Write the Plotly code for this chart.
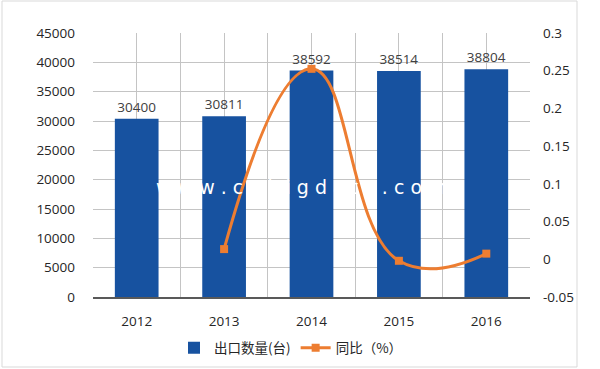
import plotly.graph_objects as go

years = ["2012", "2013", "2014", "2015", "2016"]
export_qty = [30400, 30811, 38592, 38514, 38804]
yoy_years = ["2013", "2014", "2015", "2016"]
yoy = [0.0135, 0.2525, -0.002, 0.0075]
left_ticks = [0, 5000, 10000, 15000, 20000, 25000, 30000, 35000, 40000, 45000]
right_tickvals = [-0.05, 0, 0.05, 0.1, 0.15, 0.2, 0.25, 0.3]
right_ticktext = ["-0.05", "0", "0.05", "0.1", "0.15", "0.2", "0.25", "0.3"]

xpos = {y: i for i, y in enumerate(years)}
bar_x = [xpos[y] for y in years]
line_x = [xpos[y] for y in yoy_years]

BLUE = "#1752A0"
ORANGE = "#ED7D31"
GRID = "#C4C4C4"
TXT = "#262626"
NUMFONT = "Open Sans"
CJK = "Noto Sans CJK SC"

fig = go.Figure()
fig.add_trace(go.Bar(
    x=bar_x, y=export_qty, name="出口数量(台)",
    marker=dict(color=BLUE, line=dict(width=0)), width=0.5,
    text=[str(v) for v in export_qty], textposition="outside",
    textfont=dict(family=NUMFONT, size=13.5, color="#404040"),
    cliponaxis=False,
))
fig.add_trace(go.Scatter(
    x=line_x, y=yoy, name="同比（%）", yaxis="y2",
    mode="lines+markers",
    line=dict(color=ORANGE, width=3, shape="spline", smoothing=1.3),
    marker=dict(symbol="square", size=8, color=ORANGE),
))

W, H = 600, 369
L, R, T, B = 93, 70, 33, 72
pw, ph = W - L - R, H - T - B

def px2x(p):
    return (p - L) / pw

def px2y(p):
    return (H - B - p) / ph

fig.update_layout(
    width=W, height=H,
    margin=dict(l=L, r=R, t=T, b=B, pad=0, autoexpand=False),
    paper_bgcolor="white", plot_bgcolor="white",
    font=dict(family=NUMFONT, size=13, color=TXT),
    showlegend=True,
    legend=dict(orientation="h", xref="container", yref="container",
                x=291 / W, y=1 - 348 / H, xanchor="center", yanchor="middle",
                font=dict(family=CJK, size=13.5, color=TXT),
                bgcolor="rgba(0,0,0,0)"),
    xaxis=dict(
        range=[-0.5, 4.5], tickvals=bar_x, ticktext=years,
        showgrid=True, gridcolor=GRID, gridwidth=1,
        minor=dict(tickvals=[-0.5, 0.5, 1.5, 2.5, 3.5, 4.5], showgrid=True, gridcolor=GRID, gridwidth=1),
        showline=True, linecolor="#595959", linewidth=1.5,
        ticks="", ticklabelstandoff=11, zeroline=False, automargin=False,
        tickfont=dict(family=NUMFONT, size=13.5, color=TXT),
    ),
    yaxis=dict(
        range=[0, 45000], tickvals=left_ticks, tickformat="d",
        showgrid=True, gridcolor=GRID, gridwidth=1,
        zeroline=False, showline=False, ticks="", ticklabelstandoff=17, automargin=False,
        tickfont=dict(family=NUMFONT, size=13.5, color=TXT),
    ),
    yaxis2=dict(
        range=[-0.05, 0.3], overlaying="y", side="right",
        tickvals=right_tickvals, ticktext=right_ticktext,
        showgrid=False, zeroline=False, showline=False, ticks="", ticklabelstandoff=12,
        automargin=False,
        tickfont=dict(family=NUMFONT, size=13.5, color=TXT),
    ),
    shapes=[dict(type="rect", xref="paper", yref="paper",
                 x0=px2x(2), x1=px2x(577), y0=px2y(367), y1=px2y(1),
                 line=dict(color="#D9D9D9", width=1), fillcolor="rgba(0,0,0,0)", layer="below")],
    annotations=[dict(text="w w w . c n b i g d a t a . c o m", xref="paper", yref="paper",
                      x=px2x(301), y=px2y(187), xanchor="center", yanchor="middle",
                      showarrow=False, font=dict(family="DejaVu Sans", size=19, color="white"))],
)

fig.write_html("out.html", config={"displayModeBar": False},
               post_script="document.body.style.margin='0';document.body.style.overflow='hidden';")
